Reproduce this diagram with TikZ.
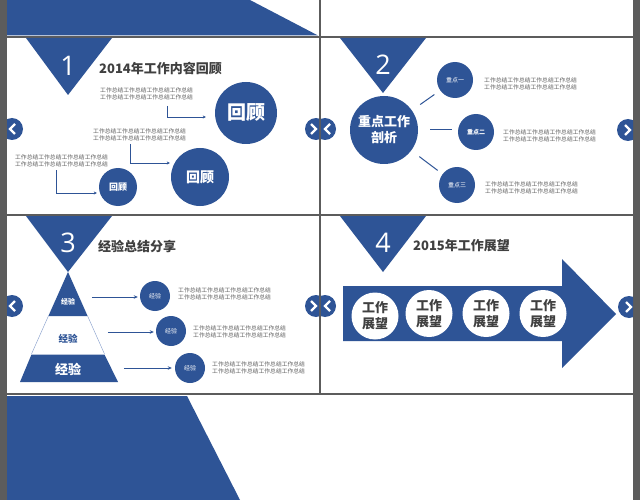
\documentclass[tikz,border=0pt]{standalone}
\usepackage{fontspec}
\newfontfamily\cjk{Noto Sans CJK SC}
\newfontfamily\numfont{Open Sans}
\usetikzlibrary{calc,arrows.meta}
\definecolor{pblue}{RGB}{46,84,150}
\definecolor{bordergrey}{RGB}{92,92,92}
\definecolor{txtgrey}{RGB}{95,95,95}
\definecolor{titlegrey}{RGB}{64,64,64}
\definecolor{lightblue}{RGB}{150,170,210}
\tikzset{
  smalltxt/.style={font=\cjk\fontsize{5.8}{7}\selectfont, text=txtgrey, align=left, inner sep=0, anchor=west},
  ttl/.style={font=\cjk\bfseries\fontsize{13}{15}\selectfont, text=titlegrey, anchor=west, inner sep=0},
  numtxt/.style={font=\numfont\fontsize{27}{30}\selectfont, text=white, inner sep=0},
  bluecirc/.style={circle, fill=pblue, text=white, inner sep=0, align=center},
  whitecirc/.style={circle, fill=white, text=titlegrey, inner sep=0, align=center, minimum size=47, font=\cjk\bfseries\fontsize{13}{16}\selectfont},
  navc/.style={circle, fill=pblue, inner sep=0, minimum size=22},
  chev/.style={draw=white, line width=2.2pt, line join=miter},
  conn/.style={draw=pblue, line width=0.6pt, -{Stealth[length=3pt,width=3pt]}},
  arr/.style={draw=pblue, line width=0.9pt, -{Stealth[length=4pt,width=3.5pt]}},
  link/.style={draw=pblue, line width=1pt},
}
\begin{document}
\begin{tikzpicture}[x=1pt,y=-1pt]
\useasboundingbox (0,0) rectangle (640,500);
\fill[white] (0,0) rectangle (640,500);
% side strips
\fill[bordergrey] (0,0) rectangle (7,500);
\fill[bordergrey] (633,0) rectangle (640,500);
% top-left and bottom blue shapes
\fill[pblue] (7,0) -- (250,0) -- (318,35.5) -- (7,35.5) -- cycle;
\fill[pblue] (7,396) -- (187,396) -- (240,500) -- (7,500) -- cycle;
% dividers
\draw[bordergrey, line width=2pt] (7,37) -- (633,37);
\draw[bordergrey, line width=2pt] (7,215) -- (633,215);
\draw[bordergrey, line width=2pt] (7,394) -- (633,394);
\draw[bordergrey, line width=1.5pt] (320,0) -- (320,394);

% ---------- nav buttons ----------
\begin{scope}
\clip (7,38) rectangle (319.2,214);
\node[navc] (nl1) at (12,129) {};
\draw[chev] ($(nl1)+(3,-5)$) -- ($(nl1)+(-2,0)$) -- ($(nl1)+(3,5)$);
\node[navc] (nr1) at (316,129) {};
\draw[chev] ($(nr1)+(-5,-5)$) -- ($(nr1)+(0,0)$) -- ($(nr1)+(-5,5)$);
\end{scope}
\begin{scope}
\clip (320.8,38) rectangle (633,214);
\node[navc] (nl2) at (325,129) {};
\draw[chev] ($(nl2)+(5,-5)$) -- ($(nl2)+(0,0)$) -- ($(nl2)+(5,5)$);
\node[navc] (nr2) at (628,130) {};
\draw[chev] ($(nr2)+(-3,-5)$) -- ($(nr2)+(2,0)$) -- ($(nr2)+(-3,5)$);
\end{scope}
\begin{scope}
\clip (7,216) rectangle (319.2,393);
\node[navc] (nl3) at (12,306) {};
\draw[chev] ($(nl3)+(3,-5)$) -- ($(nl3)+(-2,0)$) -- ($(nl3)+(3,5)$);
\node[navc] (nr3) at (316,306) {};
\draw[chev] ($(nr3)+(-5,-5)$) -- ($(nr3)+(0,0)$) -- ($(nr3)+(-5,5)$);
\end{scope}
\begin{scope}
\clip (320.8,216) rectangle (633,393);
\node[navc] (nl4) at (325,306) {};
\draw[chev] ($(nl4)+(5,-5)$) -- ($(nl4)+(0,0)$) -- ($(nl4)+(5,5)$);
\node[navc] (nr4) at (629,307) {};
\draw[chev] ($(nr4)+(-3,-5)$) -- ($(nr4)+(2,0)$) -- ($(nr4)+(-3,5)$);
\end{scope}

% ---------- panel 1 ----------
\fill[pblue] (26,38) -- (112,38) -- (68,95) -- cycle;
\node[numtxt] (n1) at (68,66) {1};
\node[ttl] (h1) at (99,69) {2014年工作内容回顾};
\node[smalltxt] (t1) at (100,93.5) {工作总结工作总结工作总结工作总结\\工作总结工作总结工作总结工作总结};
\node[smalltxt] (t2) at (93,134.5) {工作总结工作总结工作总结工作总结\\工作总结工作总结工作总结工作总结};
\node[smalltxt] (t3) at (15,161) {工作总结工作总结工作总结工作总结\\工作总结工作总结工作总结工作总结};
\node[bluecirc, minimum size=62, font=\cjk\bfseries\fontsize{19}{21}\selectfont] (c1) at (246,113) {回顾};
\node[bluecirc, minimum size=58, font=\cjk\bfseries\fontsize{14}{16}\selectfont] (c2) at (200,177) {回顾};
\node[bluecirc, minimum size=38, font=\cjk\bfseries\fontsize{9}{11}\selectfont] (c3) at (118,187) {回顾};
\draw[conn] ($(t1.south west)+(67,6)$) |- ($(c1.west)+(-9,4)$);
\draw[conn] ($(t2.south west)+(37,3)$) |- ($(c2.west)+(-1,-14)$);
\draw[conn] ($(t3.south west)+(41,3)$) |- ($(c3.west)+(-2,6)$);

% ---------- panel 2 ----------
\fill[pblue] (340,38) -- (426,38) -- (383,93) -- cycle;
\node[numtxt] (n2) at (383,65) {2};
\node[bluecirc, minimum size=68, font=\cjk\bfseries\fontsize{13}{16}\selectfont] (cm) at (384,130) {重点工作\\剖析};
\node[bluecirc, minimum size=36, font=\cjk\fontsize{6}{7}\selectfont] (k1) at (455,80) {重点一};
\node[bluecirc, minimum size=36, font=\cjk\bfseries\fontsize{6}{7}\selectfont] (k2) at (476,132) {重点二};
\node[bluecirc, minimum size=36, font=\cjk\fontsize{6}{7}\selectfont] (k3) at (457,185) {重点三};
\draw[link, shorten <=10pt, shorten >=7pt] (cm) -- (k1);
\draw[link, shorten <=12pt, shorten >=6pt] (cm.east) -- (k2.west |- cm.east);
\draw[link, shorten <=10pt, shorten >=6pt] (cm) -- (k3);
\node[smalltxt] (kt1) at (484,83.5) {工作总结工作总结工作总结工作总结\\工作总结工作总结工作总结工作总结};
\node[smalltxt] (kt2) at (503,135.5) {工作总结工作总结工作总结工作总结\\工作总结工作总结工作总结工作总结};
\node[smalltxt] (kt3) at (485,187.5) {工作总结工作总结工作总结工作总结\\工作总结工作总结工作总结工作总结};

% ---------- panel 3 ----------
\fill[pblue] (26,216) -- (112,216) -- (68,272) -- cycle;
\node[numtxt] (n3) at (68,243) {3};
\node[ttl] (h3) at (98,246) {经验总结分享};
\fill[pblue] (68,272) -- (87.6,316) -- (48.4,316) -- cycle;
\draw[lightblue, line width=0.5pt] (48.4,316) -- (31.5,354) (87.6,316) -- (104.5,354);
\fill[pblue] (31.5,354.5) -- (104.5,354.5) -- (118,382) -- (20,382) -- cycle;
\node[font=\cjk\bfseries\fontsize{7}{8}\selectfont, text=white, inner sep=0] (p1) at (68,302) {经验};
\node[font=\cjk\bfseries\fontsize{9.5}{11}\selectfont, text=pblue, inner sep=0] (p2) at (68,339) {经验};
\node[font=\cjk\bfseries\fontsize{13}{15}\selectfont, text=white, inner sep=0] (p3) at (68,369) {经验};
\node[bluecirc, minimum size=30, font=\cjk\fontsize{6}{7}\selectfont] (e1) at (155,296) {经验};
\node[bluecirc, minimum size=30, font=\cjk\fontsize{6}{7}\selectfont] (e2) at (171,331) {经验};
\node[bluecirc, minimum size=30, font=\cjk\fontsize{6}{7}\selectfont] (e3) at (190,368) {经验};
\draw[arr] ($(e1.west)+(-48,1)$) -- ($(e1.west)+(-2,1)$);
\draw[arr] ($(e2.west)+(-48,1)$) -- ($(e2.west)+(-2,1)$);
\draw[arr] ($(e3.west)+(-51,0)$) -- ($(e3.west)+(-3,0)$);
\node[smalltxt] (et1) at (178,293.5) {工作总结工作总结工作总结工作总结\\工作总结工作总结工作总结工作总结};
\node[smalltxt] (et2) at (193,331.5) {工作总结工作总结工作总结工作总结\\工作总结工作总结工作总结工作总结};
\node[smalltxt] (et3) at (212,368) {工作总结工作总结工作总结工作总结\\工作总结工作总结工作总结工作总结};

% ---------- panel 4 ----------
\fill[pblue] (340,216) -- (426,216) -- (383,272) -- cycle;
\node[numtxt] (n4) at (383,243) {4};
\node[ttl] (h4) at (413,246) {2015年工作展望};
\fill[pblue] (343,286) -- (562,286) -- (562,259) -- (616,314) -- (562,368) -- (562,341) -- (343,341) -- cycle;
\node[whitecirc] (w1) at (375,316) {工作\\展望};
\node[whitecirc] (w2) at (429,313.5) {工作\\展望};
\node[whitecirc] (w3) at (486,313.5) {工作\\展望};
\node[whitecirc] (w4) at (543,313.5) {工作\\展望};
\end{tikzpicture}
\end{document}
